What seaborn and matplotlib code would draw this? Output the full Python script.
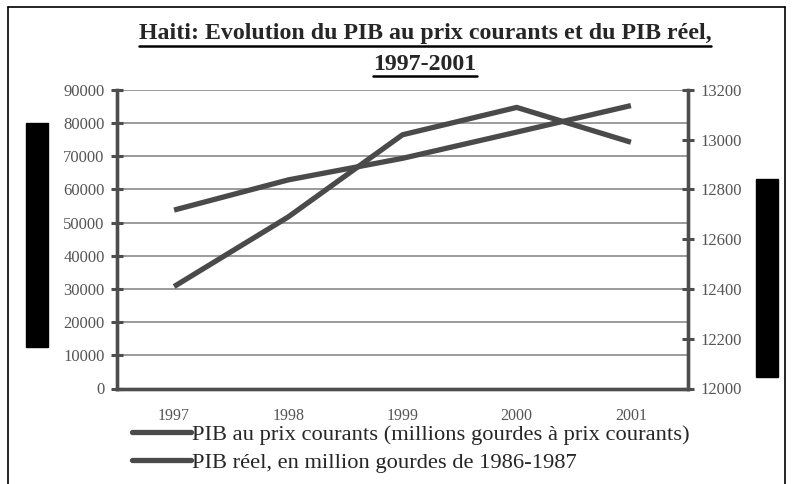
import matplotlib
matplotlib.use("Agg")
import matplotlib.pyplot as plt
import seaborn as sns
import pandas as pd
from matplotlib.lines import Line2D
from matplotlib.patches import Rectangle

# values
years = ['1997', '1998', '1999', '2000', '2001']
pib_courant = [53800, 62900, 69400, 77300, 85300]   # left axis, millions gourdes courants
pib_reel = [12410, 12690, 13020, 13130, 12990]      # right axis, millions gourdes 1986-1987
left_ticks = list(range(0, 90001, 10000))
right_ticks = list(range(12000, 13201, 200))

label_courant = 'PIB au prix courants (millions gourdes à prix courants)'
label_reel = 'PIB réel, en million gourdes de 1986-1987'

sns.set_style('white')
plt.rcParams['font.family'] = ['Liberation Serif', 'DejaVu Serif']

line_col = '#4a4a4a'
axis_col = '#4d4d4d'
grid_col = '#808080'
tick_txt = '#555555'

df = pd.DataFrame({'pos': range(len(years)), 'courant': pib_courant, 'reel': pib_reel})

fig = plt.figure(figsize=(7.94, 4.84), dpi=100)
ax = fig.add_axes([117 / 794, 1 - 388.5 / 484, (688 - 117) / 794, (388.5 - 90) / 484])
ax2 = ax.twinx()

sns.lineplot(data=df, x='pos', y='courant', ax=ax, color=line_col, lw=3.8,
             solid_capstyle='butt', legend=False)
sns.lineplot(data=df, x='pos', y='reel', ax=ax2, color=line_col, lw=3.8,
             solid_capstyle='butt', legend=False)

ax.set_xlim(-0.5, len(years) - 0.5)
ax.set_ylim(0, 90000)
ax2.set_ylim(12000, 13200)
ax.set_yticks(left_ticks)
ax2.set_yticks(right_ticks)
ax.set_yticklabels([str(v) for v in left_ticks])
ax2.set_yticklabels([str(v) for v in right_ticks])

# category boundaries as major ticks, year labels centred between them
ax.set_xticks([i - 0.5 for i in range(len(years) + 1)])
ax.set_xticklabels([])
ax.set_xticks(range(len(years)), minor=True)
ax.set_xticklabels(years, minor=True)
ax.tick_params(axis='x', which='minor', length=0, pad=14, labelsize=11.5, labelcolor=tick_txt)
ax.tick_params(axis='x', which='major', direction='inout', length=8, width=2.2, color=axis_col)
ax.tick_params(axis='y', direction='inout', length=8, width=2.2, color=axis_col,
               labelsize=12, labelcolor=tick_txt, pad=5)
ax2.tick_params(axis='y', direction='inout', length=8, width=2.2, color=axis_col,
                labelsize=12, labelcolor=tick_txt, pad=5)

ax.grid(axis='y', color=grid_col, lw=1.1)
ax.set_axisbelow(True)
for a in (ax, ax2):
    a.set_xlabel('')
    a.set_ylabel('')
    a.spines['top'].set_visible(False)
    for s in ('left', 'right', 'bottom'):
        a.spines[s].set_color(axis_col)
        a.spines[s].set_linewidth(2.4)

# title, two underlined bold lines
t1 = fig.text(425 / 794, 1 - 34 / 484, 'Haiti: Evolution du PIB au prix courants et du PIB réel,',
              ha='center', va='center', fontsize=17.2, fontweight='bold')
t2 = fig.text(425 / 794, 1 - 64 / 484, '1997-2001',
              ha='center', va='center', fontsize=17.2, fontweight='bold')
fig.canvas.draw()
r = fig.canvas.get_renderer()
for t in (t1, t2):
    bb = t.get_window_extent(r)
    y = (bb.y0 - 1) / fig.bbox.height
    fig.add_artist(Line2D([bb.x0 / fig.bbox.width, bb.x1 / fig.bbox.width], [y, y],
                          transform=fig.transFigure, color='black', lw=1.8))

# legend below the plot
handles = [Line2D([0], [0], color=line_col, lw=3.8),
           Line2D([0], [0], color=line_col, lw=3.8)]
fig.legend(handles, [label_courant, label_reel], loc='upper left',
           bbox_to_anchor=(121 / 794, 1 - 413 / 484), frameon=False, fontsize=16.2,
           handlelength=2.6, handletextpad=0.05, labelspacing=0.32, borderpad=0)

# frame around the chart
for xs, ys in (([8, 8], [7, 484]), ([785, 785], [7, 484]), ([8, 785], [7, 7])):
    fig.add_artist(Line2D([x / 794 for x in xs], [1 - y / 484 for y in ys],
                          transform=fig.transFigure, color='black', lw=1.2))

# black boxes over the axis titles
fig.add_artist(Rectangle((26 / 794, 1 - 347 / 484), 22 / 794, 224 / 484,
                         transform=fig.transFigure, color='black'))
fig.add_artist(Rectangle((756 / 794, 1 - 377 / 484), 22 / 794, 198 / 484,
                         transform=fig.transFigure, color='black'))

fig.savefig('out.png', dpi=100)
